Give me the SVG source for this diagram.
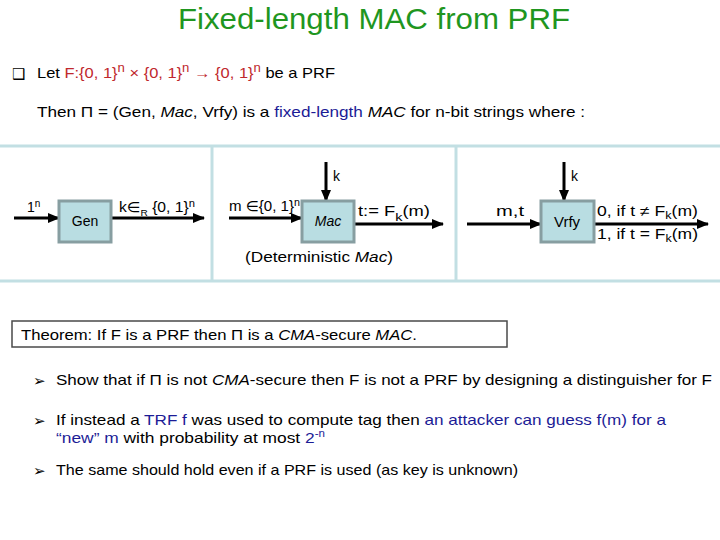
<svg xmlns="http://www.w3.org/2000/svg" width="720" height="540" viewBox="0 0 720 540">
<defs>
<style>
text{font-family:"Liberation Sans","DejaVu Sans",sans-serif;font-size:15px;fill:#000}
.title{font-size:29px;fill:#1f961f}
.red{fill:#c0282d}
.blue{fill:#1c1c96}
.it{font-style:italic}
.sym{font-family:"DejaVu Sans",sans-serif}
.panel{stroke:#c2dfe3;stroke-width:3;fill:none}
.box{fill:#b9dde2;stroke:#879ea1;stroke-width:3}
.conn{stroke:#000;stroke-width:3;fill:none}
.lbl{font-size:14px}
</style>
<marker id="ah" markerUnits="userSpaceOnUse" markerWidth="12" markerHeight="10" refX="11" refY="5" orient="auto">
<path d="M0,0 L12,5 L0,10 z" fill="#000"/>
</marker>
</defs>
<rect width="720" height="540" fill="#fff"/>
<text class="title" x="178" y="29" textLength="392" lengthAdjust="spacingAndGlyphs">Fixed-length MAC from PRF</text>

<text class="sym" x="12" y="79" font-size="13">❑</text>
<text x="37" y="78" textLength="298" lengthAdjust="spacingAndGlyphs">Let <tspan class="red">F:{0, 1}<tspan dy="-6" font-size="12">n</tspan><tspan dy="6"> × {0, 1}</tspan><tspan dy="-6" font-size="12">n</tspan><tspan dy="6"> → {0, 1}</tspan><tspan dy="-6" font-size="12">n</tspan></tspan><tspan dy="6"> be a PRF</tspan></text>

<text x="37" y="117" textLength="548" lengthAdjust="spacingAndGlyphs">Then Π = (Gen, <tspan class="it">Mac</tspan>, Vrfy) is a <tspan class="blue">fixed-length</tspan> <tspan class="it">MAC</tspan> for n-bit strings where :</text>

<g id="panel">
<line class="panel" x1="0" y1="146" x2="720" y2="146"/>
<line class="panel" x1="0" y1="281" x2="720" y2="281"/>
<line class="panel" x1="212" y1="146" x2="212" y2="281"/>
<line class="panel" x1="456" y1="146" x2="456" y2="281"/>
</g>

<g id="connectors">
<line class="conn" x1="14" y1="218" x2="59" y2="218" marker-end="url(#ah)"/>
<line class="conn" x1="111" y1="218" x2="204" y2="218" marker-end="url(#ah)"/>
<line class="conn" x1="229" y1="218" x2="302" y2="218" marker-end="url(#ah)"/>
<line class="conn" x1="326" y1="162" x2="326" y2="201" marker-end="url(#ah)"/>
<line class="conn" x1="354" y1="224" x2="443" y2="224" marker-end="url(#ah)"/>
<line class="conn" x1="467" y1="224" x2="541" y2="224" marker-end="url(#ah)"/>
<line class="conn" x1="564" y1="162" x2="564" y2="201" marker-end="url(#ah)"/>
<line class="conn" x1="594" y1="224" x2="708" y2="224" marker-end="url(#ah)"/>
<text class="lbl" x="27" y="212">1<tspan dy="-5" font-size="10">n</tspan></text>
<text class="lbl" x="119" y="212" textLength="76" lengthAdjust="spacingAndGlyphs">k∈<tspan dy="4" font-size="9">R</tspan><tspan dy="-4"> {0, 1}</tspan><tspan dy="-5" font-size="10">n</tspan></text>
<text class="lbl" x="229" y="211" textLength="71" lengthAdjust="spacingAndGlyphs">m ∈{0, 1}<tspan dy="-5" font-size="10">n</tspan></text>
<text class="lbl" x="333" y="181">k</text>
<text class="lbl" x="358" y="216" textLength="72" lengthAdjust="spacingAndGlyphs">t:= F<tspan dy="5" font-size="11">k</tspan><tspan dy="-5">(m)</tspan></text>
<text class="lbl" x="496" y="216" textLength="28" lengthAdjust="spacingAndGlyphs">m,t</text>
<text class="lbl" x="571" y="181">k</text>
<text class="lbl" x="597" y="216" textLength="101" lengthAdjust="spacingAndGlyphs">0, if t ≠ F<tspan dy="3" font-size="10">k</tspan><tspan dy="-3">(m)</tspan></text>
<text class="lbl" x="597" y="239" textLength="101" lengthAdjust="spacingAndGlyphs">1, if t = F<tspan dy="3" font-size="10">k</tspan><tspan dy="-3">(m)</tspan></text>
</g>

<g id="gen">
<rect class="box" x="59" y="201" width="52" height="41"/>
<text class="lbl" x="85" y="226" text-anchor="middle">Gen</text>
</g>
<g id="mac">
<rect class="box" x="302" y="201" width="52" height="41"/>
<text class="lbl it" x="328" y="226" text-anchor="middle">Mac</text>
<text class="lbl" x="245" y="262" textLength="148" lengthAdjust="spacingAndGlyphs">(Deterministic <tspan class="it">Mac</tspan>)</text>
</g>
<g id="vrfy">
<rect class="box" x="541" y="201" width="53" height="41"/>
<text x="567" y="227" text-anchor="middle">Vrfy</text>
</g>

<g id="theorem">
<rect x="12" y="321" width="495" height="26" fill="#fff" stroke="#4a4a4a" stroke-width="1.5"/>
<text x="21" y="340" textLength="396" lengthAdjust="spacingAndGlyphs">Theorem: If F is a PRF then Π is a <tspan class="it">CMA</tspan>-secure <tspan class="it">MAC</tspan>.</text>
</g>

<g id="bullets">
<text class="sym" x="33" y="386" font-size="15">➢</text>
<text x="56" y="385" textLength="656" lengthAdjust="spacingAndGlyphs">Show that if Π is not  <tspan class="it">CMA</tspan>-secure then F is not a PRF by designing a distinguisher for F</text>
<text class="sym" x="33" y="426" font-size="15">➢</text>
<text x="56" y="425" textLength="610" lengthAdjust="spacingAndGlyphs">If instead a <tspan class="blue">TRF f</tspan> was used to compute tag then <tspan class="blue">an attacker can guess f(m) for a</tspan></text>
<text x="56" y="443" textLength="269" lengthAdjust="spacingAndGlyphs"><tspan class="blue">“new” m</tspan> with probability at most <tspan class="blue">2<tspan dy="-6" font-size="10">-n</tspan></tspan></text>
<text class="sym" x="33" y="476" font-size="15">➢</text>
<text x="56" y="475" textLength="462" lengthAdjust="spacingAndGlyphs">The same should hold even if a PRF is used (as key is unknown)</text>
</g>
</svg>
